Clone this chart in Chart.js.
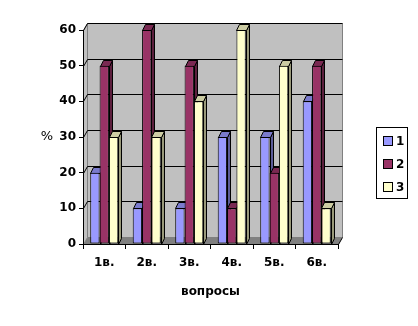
<!DOCTYPE html>
<html>
<head>
<meta charset="utf-8">
<script src="https://cdn.jsdelivr.net/npm/chart.js@4/dist/chart.umd.min.js"></script>
<style>
  html, body { margin: 0; padding: 0; background: #fff; }
  #wrap { width: 418px; height: 326px; }
</style>
</head>
<body>
<div id="wrap"><canvas id="chart" width="418" height="326"></canvas></div>
<script>
// data
const categories = ['1в.', '2в.', '3в.', '4в.', '5в.', '6в.'];
const seriesNames = ['1', '2', '3'];
const series1 = [20, 10, 10, 30, 30, 40];
const series2 = [50, 60, 50, 10, 20, 50];
const series3 = [30, 30, 40, 60, 50, 10];
const yMin = 0, yMax = 60, yStep = 10;
const yTitle = '%';
const xTitle = 'вопросы';

const fronts = ['#9999FF', '#993366', '#FFFFCC'];
const sides = ['#5C5C99', '#5C1F3D', '#99997A'];
const tops = ['#7A7ACC', '#7A2952', '#CCCCA3'];
const FONT = 'DejaVu Sans';

// fake 3d: back wall offset and bar depth
const wall = { dx: 4, dy: 7 };
const bar3d = { dx: 3, dy: 6 };

function poly(ctx, pts, fill, stroke) {
    ctx.beginPath();
    ctx.moveTo(pts[0][0], pts[0][1]);
    for (let i = 1; i < pts.length; i++) ctx.lineTo(pts[i][0], pts[i][1]);
    ctx.closePath();
    if (fill) { ctx.fillStyle = fill; ctx.fill(); }
    if (stroke) { ctx.strokeStyle = stroke; ctx.lineWidth = 1; ctx.stroke(); }
}

const excel3d = {
    id: 'excel3d',
    beforeDraw(chart) {
        const ctx = chart.ctx;
        const a = chart.chartArea;
        const ys = chart.scales.y;
        const L = Math.round(a.left) + 0.5, R = Math.round(a.right) + 0.5;
        const T = Math.round(a.top) + 0.5, B = Math.round(a.bottom) + 0.5;
        ctx.save();
        // back wall
        poly(ctx, [[L + wall.dx, T - wall.dy], [R + wall.dx, T - wall.dy], [R + wall.dx, B - wall.dy], [L + wall.dx, B - wall.dy]], '#C0C0C0', '#808080');
        // side wall
        poly(ctx, [[L, T], [L + wall.dx, T - wall.dy], [L + wall.dx, B - wall.dy], [L, B]], '#C0C0C0', '#808080');
        // grid lines on the walls
        ctx.strokeStyle = '#000';
        ctx.lineWidth = 1;
        for (let v = yMin + yStep; v <= yMax; v += yStep) {
            const y = Math.round(ys.getPixelForValue(v)) + 0.5;
            ctx.beginPath();
            ctx.moveTo(L, y);
            ctx.lineTo(L + wall.dx, y - wall.dy);
            ctx.lineTo(R + wall.dx, y - wall.dy);
            ctx.stroke();
        }
        // floor
        poly(ctx, [[L, B], [R, B], [R + wall.dx, B - wall.dy], [L + wall.dx, B - wall.dy]], '#808080', null);
        ctx.strokeStyle = '#000';
        ctx.beginPath();
        ctx.moveTo(R, B);
        ctx.lineTo(R + wall.dx, B - wall.dy);
        ctx.stroke();
        ctx.restore();
    },
    beforeDatasetsDraw(chart) {
        const ctx = chart.ctx;
        ctx.save();
        const n = chart.data.labels.length;
        for (let i = 0; i < n; i++) {
            chart.data.datasets.forEach((ds, d) => {
                const el = chart.getDatasetMeta(d).data[i];
                const p = el.getProps(['x', 'y', 'base', 'width'], true);
                const l = Math.round(p.x - p.width / 2) + 0.5;
                const r = Math.round(p.x + p.width / 2) + 0.5;
                const t = Math.round(p.y) + 0.5;
                const b = Math.round(p.base) + 0.5;
                poly(ctx, [[r, t], [r + bar3d.dx, t - bar3d.dy], [r + bar3d.dx, b - bar3d.dy], [r, b]], sides[d], '#000');
                poly(ctx, [[l, t], [l + bar3d.dx, t - bar3d.dy], [r + bar3d.dx, t - bar3d.dy], [r, t]], tops[d], '#000');
            });
        }
        ctx.restore();
    },
    afterDraw(chart) {
        const ctx = chart.ctx;
        const a = chart.chartArea;
        ctx.save();
        // y title, horizontal like the original
        ctx.fillStyle = '#000';
        ctx.font = '13px "' + FONT + '"';
        ctx.textAlign = 'center';
        ctx.textBaseline = 'middle';
        ctx.fillText(yTitle, 47, (a.top + a.bottom) / 2);
        // legend box
        const bx = 376.5, by = 127.5, bw = 31, bh = 71;
        ctx.fillStyle = '#fff';
        ctx.fillRect(bx, by, bw, bh);
        ctx.strokeStyle = '#000';
        ctx.lineWidth = 1;
        ctx.strokeRect(bx, by, bw, bh);
        ctx.font = 'bold 12px "' + FONT + '"';
        ctx.textAlign = 'left';
        chart.data.datasets.forEach((ds, d) => {
            const cy = 141 + d * 23;
            ctx.fillStyle = ds.backgroundColor;
            ctx.fillRect(383.5, cy - 4.5, 9, 9);
            ctx.strokeRect(383.5, cy - 4.5, 9, 9);
            ctx.fillStyle = '#000';
            ctx.fillText(ds.label, 396, cy + 1);
        });
        ctx.restore();
    }
};

const allSeries = [series1, series2, series3];

new Chart(document.getElementById('chart'), {
    type: 'bar',
    data: {
        labels: categories,
        datasets: allSeries.map((s, d) => ({
            label: seriesNames[d],
            data: s,
            backgroundColor: fronts[d],
            borderColor: '#000',
            borderWidth: 1,
            borderSkipped: false,
            categoryPercentage: 0.66,
            barPercentage: 1.0
        }))
    },
    options: {
        responsive: false,
        animation: false,
        devicePixelRatio: 1,
        layout: { padding: { top: 30, right: 80, bottom: 0, left: 0 } },
        plugins: {
            legend: { display: false },
            tooltip: { enabled: false }
        },
        scales: {
            x: {
                afterFit(scale) { scale.height = 82; },
                grid: { drawOnChartArea: false, drawTicks: true, tickLength: 5, color: '#000', offset: true },
                border: { color: '#000', width: 1 },
                ticks: { color: '#000', padding: 7, font: { family: FONT, size: 12, weight: 'bold' } },
                title: {
                    display: true,
                    text: xTitle,
                    color: '#000',
                    font: { family: FONT, size: 12, weight: 'bold' },
                    padding: { top: 4, bottom: 27 }
                }
            },
            y: {
                min: yMin,
                max: yMax,
                afterFit(scale) { scale.width = 83; },
                grid: { drawOnChartArea: false, drawTicks: true, tickLength: 4, color: '#000' },
                border: { color: '#000', width: 1 },
                ticks: { stepSize: yStep, color: '#000', padding: 3, font: { family: FONT, size: 12, weight: 'bold' } }
            }
        }
    },
    plugins: [excel3d]
});
</script>
</body>
</html>
